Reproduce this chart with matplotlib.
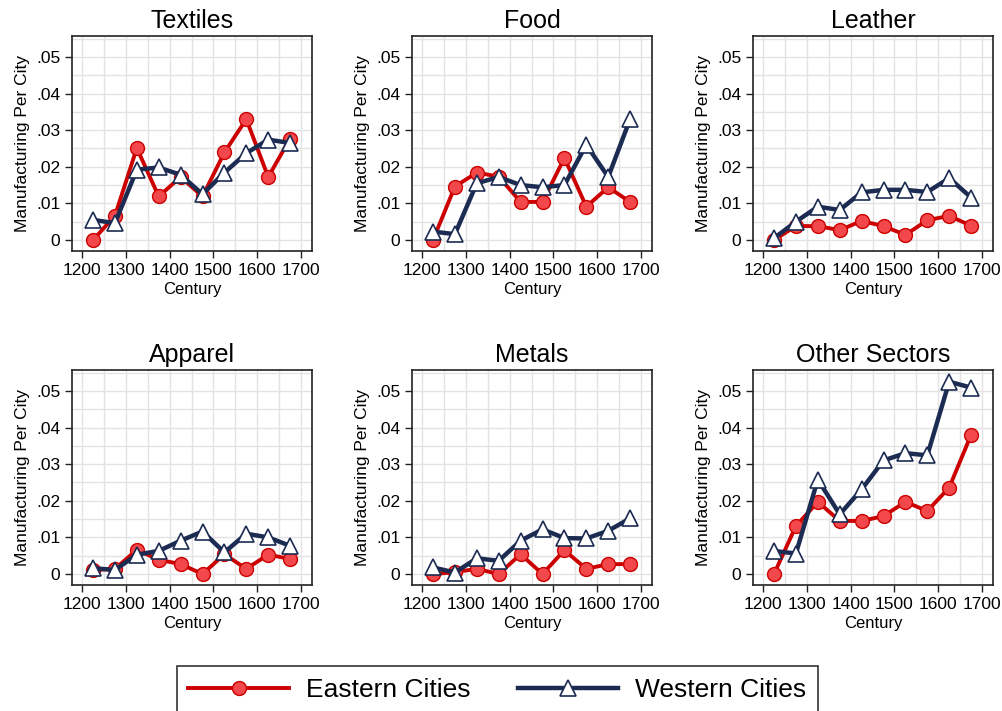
import numpy as np
import matplotlib
matplotlib.use("Agg")
import matplotlib.pyplot as plt
from matplotlib.ticker import MultipleLocator, FuncFormatter

plt.rcParams["font.family"] = ["Liberation Sans", "DejaVu Sans"]

# ── Daten ───────────────────────────────────────
century = [1225, 1275, 1325, 1375, 1425, 1475, 1525, 1575, 1625, 1675]
sectors = ["Textiles", "Food", "Leather", "Apparel", "Metals", "Other Sectors"]

east_textiles = [0.0, 0.0066, 0.0251, 0.0119, 0.0172, 0.0119, 0.0239, 0.0330, 0.0172, 0.0277]
west_textiles = [0.0055, 0.0046, 0.0192, 0.0198, 0.0178, 0.0125, 0.0184, 0.0237, 0.0274, 0.0265]

east_food = [0.0, 0.0146, 0.0184, 0.0173, 0.0104, 0.0104, 0.0224, 0.0091, 0.0144, 0.0104]
west_food = [0.0023, 0.0016, 0.0155, 0.0172, 0.0150, 0.0144, 0.0150, 0.0260, 0.0172, 0.0330]

east_leather = [0.0, 0.0038, 0.0038, 0.0027, 0.0052, 0.0038, 0.0014, 0.0054, 0.0066, 0.0039]
west_leather = [0.0005, 0.0050, 0.0091, 0.0082, 0.0130, 0.0137, 0.0137, 0.0131, 0.0169, 0.0116]

east_apparel = [0.0011, 0.0014, 0.0066, 0.0039, 0.0027, 0.0, 0.0054, 0.0014, 0.0053, 0.0041]
west_apparel = [0.0016, 0.0011, 0.0053, 0.0063, 0.0091, 0.0116, 0.0059, 0.0110, 0.0100, 0.0077]

east_metals = [0.0, 0.0005, 0.0014, 0.0, 0.0054, 0.0, 0.0065, 0.0014, 0.0027, 0.0027]
west_metals = [0.0018, 0.0004, 0.0043, 0.0036, 0.0091, 0.0122, 0.0098, 0.0097, 0.0118, 0.0152]

east_other = [0.0, 0.0131, 0.0197, 0.0145, 0.0145, 0.0158, 0.0197, 0.0172, 0.0236, 0.0380]
west_other = [0.0063, 0.0056, 0.0258, 0.0163, 0.0231, 0.0310, 0.0330, 0.0324, 0.0525, 0.0509]

east_all = [east_textiles, east_food, east_leather, east_apparel, east_metals, east_other]
west_all = [west_textiles, west_food, west_leather, west_apparel, west_metals, west_other]

# ── Stil ────────────────────────────────────────
RED_LINE = "#cc0000"
RED_FACE = "#f2484b"
NAVY     = "#1c2b52"
W, H = 1003, 711

# Achsen-Positionen in Pixeln (links, rechts) / (oben, unten)
cols = [(72, 312), (412, 652), (753, 993)]
rows = [(36, 251), (370, 585)]

fig = plt.figure(figsize=(W / 100, H / 100), dpi=100)

def ytick_fmt(v, pos):
    if abs(v) < 1e-9:
        return "0"
    return f"{v:.2f}".lstrip("0")

for i, name in enumerate(sectors):
    (x0, x1) = cols[i % 3]
    (y0, y1) = rows[i // 3]
    ax = fig.add_axes([x0 / W, 1 - y1 / H, (x1 - x0) / W, (y1 - y0) / H])

    ax.plot(century, east_all[i], color=RED_LINE, lw=2.8, marker="o", ms=10,
            mfc=RED_FACE, mec=RED_LINE, mew=1.0, zorder=3, label="Eastern Cities")
    ax.plot(century, west_all[i], color=NAVY, lw=3.2, marker="^", ms=11,
            mfc="white", mec=NAVY, mew=1.2, zorder=4, label="Western Cities")

    ax.set_xlim(1177, 1725)
    ax.set_ylim(-0.003, 0.0557)
    ax.xaxis.set_major_locator(MultipleLocator(100))
    ax.xaxis.set_minor_locator(MultipleLocator(50))
    ax.yaxis.set_major_locator(MultipleLocator(0.01))
    ax.yaxis.set_minor_locator(MultipleLocator(0.005))
    ax.yaxis.set_major_formatter(FuncFormatter(ytick_fmt))
    ax.grid(True, which="both", color="#e3e3e3", lw=1.0, zorder=0)
    ax.set_axisbelow(True)
    ax.tick_params(which="minor", length=0)
    ax.tick_params(which="major", length=5, width=1, labelsize=12.5, color="#222222")
    for sp in ax.spines.values():
        sp.set_color("#222222")
        sp.set_linewidth(1.2)

    ax.set_title(name, fontsize=18, pad=6)
    ax.set_xlabel("Century", fontsize=12, labelpad=3)
    ax.set_ylabel("Manufacturing Per City", fontsize=12.5, labelpad=4)

handles, labels = ax.get_legend_handles_labels()
leg = fig.legend(handles, labels, loc="upper center", bbox_to_anchor=(0.496, 1 - 666 / H),
                 ncol=2, fontsize=19, frameon=True, fancybox=False, handlelength=3.8,
                 columnspacing=1.8, borderpad=0.45, borderaxespad=0, handletextpad=0.65)
leg.get_frame().set_edgecolor("black")
leg.get_frame().set_linewidth(1.2)

plt.savefig("out.png", dpi=100)
